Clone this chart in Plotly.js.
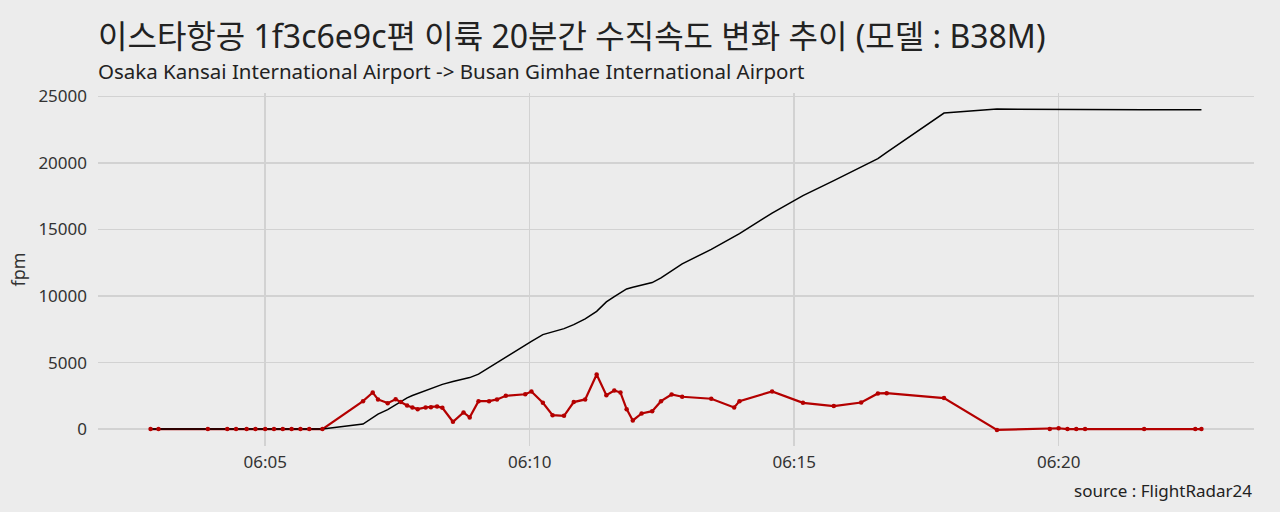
<!DOCTYPE html>
<html>
<head>
<meta charset="utf-8">
<script src="https://cdn.plot.ly/plotly-3.0.1.min.js"></script>
<style>
  html, body { margin: 0; padding: 0; background: #ececec; }
  #chart { width: 1280px; height: 512px; }
</style>
</head>
<body>
<div id="chart"></div>
<script>
// 시각 (06:00 기준)
const times = [
    '06:02:50', '06:02:59', '06:03:55', '06:04:17', '06:04:27', '06:04:39', '06:04:49',
    '06:05:00', '06:05:10', '06:05:20', '06:05:30', '06:05:40', '06:05:50', '06:06:05',
    '06:06:51', '06:07:02', '06:07:08', '06:07:19', '06:07:28', '06:07:34', '06:07:41',
    '06:07:47', '06:07:53', '06:08:02', '06:08:08', '06:08:15', '06:08:21', '06:08:33',
    '06:08:45', '06:08:52', '06:09:02', '06:09:14', '06:09:23', '06:09:33', '06:09:55',
    '06:10:02', '06:10:15', '06:10:26', '06:10:39', '06:10:50', '06:11:03', '06:11:16',
    '06:11:27', '06:11:36', '06:11:43', '06:11:50', '06:11:57', '06:12:07', '06:12:19',
    '06:12:29', '06:12:41', '06:12:53', '06:13:26', '06:13:52', '06:13:58', '06:14:35',
    '06:15:10', '06:15:45', '06:16:16', '06:16:35', '06:16:45', '06:17:50', '06:18:50',
    '06:19:50', '06:20:00', '06:20:10', '06:20:20', '06:20:30', '06:21:37', '06:22:35',
    '06:22:42'
];

// 수직속도 (fpm)
const vspeed = [
    0, 0, 0, 0, 0, 0, 0,
    0, 0, 0, 0, 0, 0, 0,
    2100, 2750, 2230, 1950, 2250, 2030, 1780,
    1630, 1500, 1630, 1650, 1700, 1600, 550,
    1250, 880, 2100, 2100, 2230, 2500, 2620,
    2820, 1975, 1050, 1000, 2030, 2230, 4100,
    2550, 2900, 2750, 1500, 650, 1180, 1350,
    2100, 2600, 2430, 2280, 1630, 2100, 2830,
    1975, 1730, 2000, 2680, 2700, 2330, -64,
    0, 64, 0, 0, 0, 0, 0,
    0
];

// 고도 (ft)
const altitude = [
    0, 0, 0, 0, 0, 0, 0,
    0, 0, 0, 0, 0, 0, 0,
    375, 850, 1125, 1460, 1820, 2090, 2350,
    2520, 2670, 2900, 3080, 3230, 3360, 3570,
    3750, 3870, 4130, 4630, 4990, 5430, 6330,
    6600, 7100, 7330, 7550, 7850, 8280, 8850,
    9560, 9950, 10250, 10530, 10660, 10810, 11010,
    11370, 11880, 12410, 13510, 14450, 14690, 16230,
    17540, 18670, 19670, 20320, 20800, 23750, 24050,
    24025, 24025, 24000, 24000, 24000, 24000, 24000,
    24000
];

const yTicks = [0, 5000, 10000, 15000, 20000, 25000];

const DAY = '2023-01-01 ';
const xs = times.map(t => DAY + t);

// ggplot 식 5% 여백
function expand(lo, hi) {
    const pad = (hi - lo) * 0.05;
    return [lo - pad, hi + pad];
}
const tMs = xs.map(s => new Date(s.replace(' ', 'T')).getTime());
const xr = expand(Math.min(...tMs), Math.max(...tMs));
const allY = vspeed.concat(altitude);
const yr = expand(Math.min(...allY), Math.max(...allY));

function fmt(ms) {
    const d = new Date(ms);
    const p = n => String(n).padStart(2, '0');
    return `${d.getFullYear()}-${p(d.getMonth() + 1)}-${p(d.getDate())} ${p(d.getHours())}:${p(d.getMinutes())}:${p(d.getSeconds())}.${String(d.getMilliseconds()).padStart(3, '0')}`;
}

const RED = '#b40000';
const FONT = '"Noto Sans", "Noto Sans CJK KR", sans-serif';

const redLine = {
    x: xs, y: vspeed, type: 'scatter', mode: 'lines',
    line: { color: RED, width: 2.2 },
    hoverinfo: 'skip',
};
const blackLine = {
    x: xs, y: altitude, type: 'scatter', mode: 'lines',
    line: { color: '#000000', width: 1.5 },
    hoverinfo: 'skip',
};
const redPoints = {
    x: xs, y: vspeed, type: 'scatter', mode: 'markers',
    marker: { color: RED, size: 4.5 },
};

const layout = {
    width: 1280,
    height: 512,
    paper_bgcolor: '#ececec',
    plot_bgcolor: '#ececec',
    font: { family: FONT, color: '#222222', size: 16 },
    margin: { l: 98, r: 26, t: 93, b: 66 },
    showlegend: false,
    xaxis: {
        type: 'date',
        range: [fmt(xr[0]), fmt(xr[1])],
        tick0: DAY + '06:05:00',
        dtick: 5 * 60 * 1000,
        tickformat: '%H:%M',
        showgrid: true,
        gridcolor: '#d2d2d2',
        gridwidth: 1.6,
        zeroline: false,
        showline: false,
        ticks: '',
        ticklen: 0,
        ticklabelstandoff: 4,
        tickfont: { size: 17, color: '#333333' },
    },
    yaxis: {
        range: yr,
        tickvals: yTicks,
        ticktext: yTicks.map(String),
        showgrid: true,
        gridcolor: '#d2d2d2',
        gridwidth: 1.6,
        zeroline: false,
        showline: false,
        ticks: '',
        ticklabelstandoff: 10,
        tickfont: { size: 17, color: '#333333' },
        title: { text: 'fpm', font: { size: 18, color: '#333333' }, standoff: 8 },
    },
    annotations: [
        {
            text: '이스타항공 1f3c6e9c편 이륙 20분간 수직속도 변화 추이 (모델 : B38M)',
            xref: 'paper', yref: 'paper', x: 0, y: 1, xanchor: 'left', yanchor: 'bottom',
            xshift: -2, yshift: 34,
            showarrow: false,
            font: { size: 32, color: '#222222' },
        },
        {
            text: 'Osaka Kansai International Airport -> Busan Gimhae International Airport',
            xref: 'paper', yref: 'paper', x: 0, y: 1, xanchor: 'left', yanchor: 'bottom',
            xshift: -2, yshift: 6,
            showarrow: false,
            font: { size: 20.5, color: '#222222' },
        },
        {
            text: 'source : FlightRadar24',
            xref: 'paper', yref: 'paper', x: 1, y: 0, xanchor: 'right', yanchor: 'top',
            yshift: -31,
            showarrow: false,
            font: { size: 17, color: '#222222' },
        },
    ],
};

Plotly.newPlot('chart', [redLine, blackLine, redPoints], layout, { displayModeBar: false, staticPlot: true });
</script>
</body>
</html>
